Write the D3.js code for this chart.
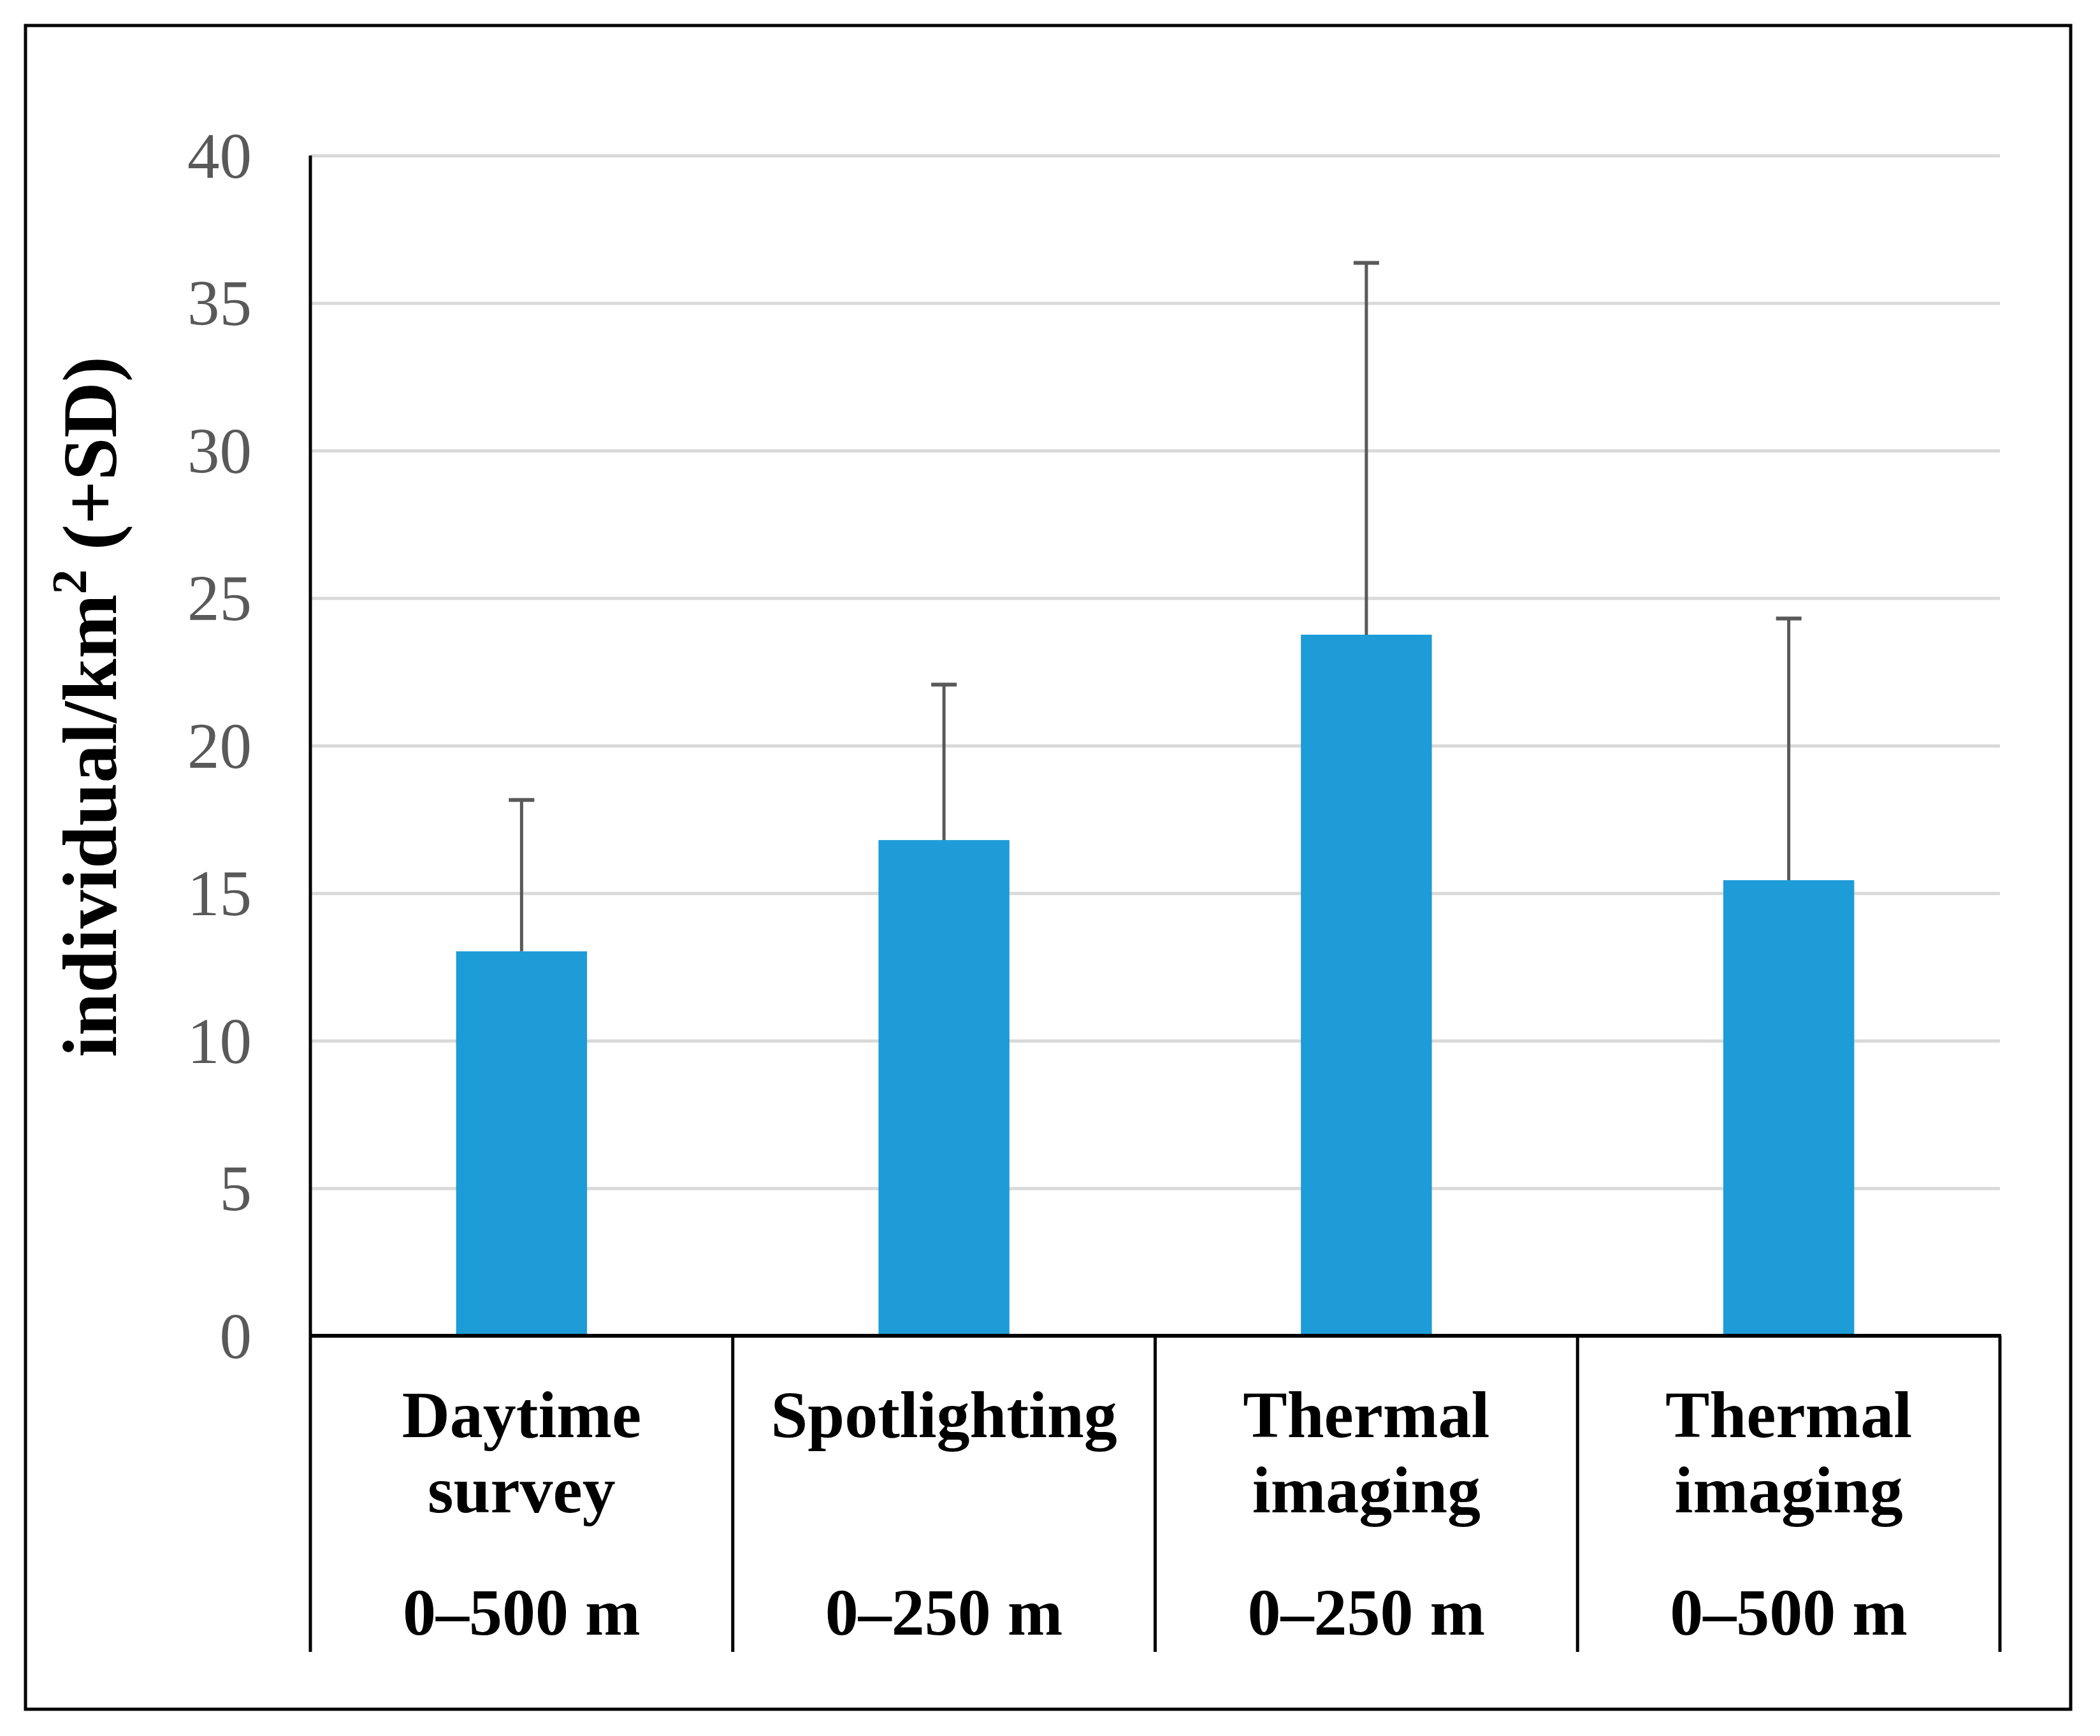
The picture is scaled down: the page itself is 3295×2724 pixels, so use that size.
<!DOCTYPE html>
<html>
<head>
<meta charset="utf-8">
<script src="https://cdn.jsdelivr.net/npm/d3@7"></script>
<style>
body { margin: 0; background: #fff; }
text { font-family: "Liberation Serif", "Times New Roman", serif; }
</style>
</head>
<body>
<svg id="chart" width="3295" height="2724"></svg>
<script>
// data
var methods = [["Daytime", "survey"], ["Spotlighting"], ["Thermal", "imaging"], ["Thermal", "imaging"]];
var ranges = ["0–500 m", "0–250 m", "0–250 m", "0–500 m"];
var means = [13.03, 16.80, 23.76, 15.44];
var sds = [5.13, 5.27, 12.60, 8.87];
var yTicks = [0, 5, 10, 15, 20, 25, 30, 35, 40];

var keys = ranges.map(function(r, i) { return methods[i].join(" ") + " " + r; });

var svg = d3.select("#chart");
var plotL = 487, plotR = 3138, plotT = 244, plotB = 2096;

svg.append("rect").attr("width", 3295).attr("height", 2724).attr("fill", "#fff");

// outer frame
svg.append("rect")
    .attr("x", 40).attr("y", 40)
    .attr("width", 3209).attr("height", 2642)
    .attr("fill", "none").attr("stroke", "#000").attr("stroke-width", 5);

var x = d3.scaleBand().domain(keys).range([plotL, plotR]).padding(0);
var y = d3.scaleLinear().domain([0, 40]).range([plotB, plotT]);
var barW = x.bandwidth() * 0.31;

var g = svg.append("g");

// gridlines
g.append("g")
    .attr("transform", "translate(" + plotL + ",0)")
    .call(d3.axisLeft(y).tickValues(yTicks.slice(1)).tickSize(-(plotR - plotL)).tickFormat(""))
    .call(function(a) { a.select(".domain").remove(); })
    .selectAll("line").attr("stroke", "#d9d9d9").attr("stroke-width", 5);

// tick labels
g.append("g")
    .attr("transform", "translate(" + plotL + ",0)")
    .call(d3.axisLeft(y).tickValues(yTicks).tickSize(0).tickPadding(92))
    .call(function(a) { a.select(".domain").remove(); })
    .selectAll("text")
    .attr("font-family", "Liberation Serif, Times New Roman, serif")
    .attr("font-size", 101)
    .attr("fill", "#595959")
    .attr("dy", "0.34em");

// bars
g.selectAll(".bar")
    .data(keys)
    .enter().append("rect")
    .attr("class", "bar")
    .attr("x", function(d) { return x(d) + (x.bandwidth() - barW) / 2; })
    .attr("y", function(d, i) { return y(means[i]); })
    .attr("width", barW)
    .attr("height", function(d, i) { return y(0) - y(means[i]); })
    .attr("fill", "#1e9cd7");

// error bars (+SD)
var err = g.selectAll(".err").data(keys).enter().append("g").attr("class", "err")
    .attr("stroke", "#595959").attr("stroke-width", 5);
err.append("line")
    .attr("x1", function(d) { return x(d) + x.bandwidth() / 2; })
    .attr("x2", function(d) { return x(d) + x.bandwidth() / 2; })
    .attr("y1", function(d, i) { return y(means[i]); })
    .attr("y2", function(d, i) { return y(means[i] + sds[i]); });
err.append("line")
    .attr("x1", function(d) { return x(d) + x.bandwidth() / 2 - 20; })
    .attr("x2", function(d) { return x(d) + x.bandwidth() / 2 + 20; })
    .attr("y1", function(d, i) { return y(means[i] + sds[i]); })
    .attr("y2", function(d, i) { return y(means[i] + sds[i]); })
    .attr("stroke-width", 6);

// axes
g.append("line").attr("x1", plotL).attr("x2", plotL).attr("y1", plotT).attr("y2", 2592)
    .attr("stroke", "#000").attr("stroke-width", 5);
g.append("line").attr("x1", plotL - 2).attr("x2", plotR + 2).attr("y1", plotB).attr("y2", plotB)
    .attr("stroke", "#000").attr("stroke-width", 6);

// category table lines
g.selectAll(".sep")
    .data(keys)
    .enter().append("line")
    .attr("class", "sep")
    .attr("x1", function(d) { return x(d) + x.bandwidth(); })
    .attr("x2", function(d) { return x(d) + x.bandwidth(); })
    .attr("y1", plotB).attr("y2", 2592)
    .attr("stroke", "#000").attr("stroke-width", 5);

// category labels
var lab = g.selectAll(".lab").data(keys).enter().append("g").attr("class", "lab")
    .attr("transform", function(d) { return "translate(" + (x(d) + x.bandwidth() / 2) + ",0)"; });
lab.each(function(d, i) {
    var el = d3.select(this);
    methods[i].forEach(function(t, j) {
        el.append("text").attr("y", 2255 + j * 118)
            .attr("text-anchor", "middle").attr("font-weight", "bold").attr("font-size", 104)
            .text(t);
    });
    el.append("text").attr("y", 2565)
        .attr("text-anchor", "middle").attr("font-weight", "bold").attr("font-size", 104)
        .text(ranges[i]);
});

// y axis title
var title = svg.append("text")
    .attr("transform", "translate(182,1109) rotate(-90)")
    .attr("text-anchor", "middle")
    .attr("font-weight", "bold")
    .attr("font-size", 121);
title.append("tspan").text("individual/km");
title.append("tspan").attr("font-size", 78).attr("dy", -47).text("2");
title.append("tspan").attr("dy", 47).text(" (+SD)");
</script>
</body>
</html>
